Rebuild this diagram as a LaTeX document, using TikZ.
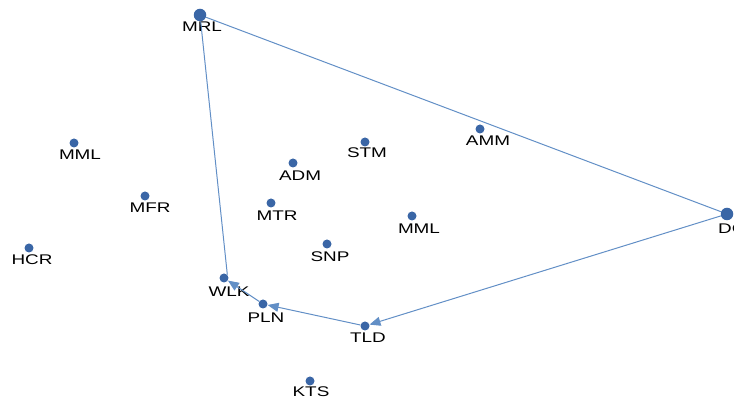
\documentclass[tikz,border=0pt]{standalone}
\usepackage{fontspec}
\newfontfamily\lblfont[FakeStretch=1.35]{Liberation Sans}
\usepackage{xcolor}
\definecolor{dotBlue}{HTML}{3A66A6}
\definecolor{lineBlue}{HTML}{628FC6}
\usepackage{tikz}
\usetikzlibrary{arrows.meta}

\tikzset{
  pt/.style={circle, fill=dotBlue, draw=none, inner sep=0pt, minimum size=9pt},
  bigpt/.style={pt, minimum size=12.5pt},
  lbl/.style={inner sep=0pt, font=\lblfont\fontsize{14}{16}\selectfont, text=black},
  route/.style={draw=lineBlue, line width=1pt},
}

\begin{document}
\begin{tikzpicture}[x=1pt, y=1pt, >={Triangle[length=11pt,width=9pt]}]
  \clip (0,0) rectangle (734,403);
  % the points
  \node[bigpt] (mrl)  at (200,388) {};   % top
  \node[bigpt] (dc)   at (727,189) {};   % right edge
  \node[pt]    (amm)  at (480,274) {};
  \node[pt]    (stm)  at (365,261) {};
  \node[pt]    (adm)  at (293,240) {};
  \node[pt]    (mtr)  at (271,200) {};
  \node[pt]    (mmlr) at (412,187) {};
  \node[pt]    (snp)  at (327,159) {};
  \node[pt]    (mmll) at (74,260)  {};
  \node[pt]    (mfr)  at (145,207) {};
  \node[pt]    (hcr)  at (29,155)  {};
  \node[pt]    (wlk)  at (224,125) {};
  \node[pt]    (pln)  at (263,99)  {};
  \node[pt]    (tld)  at (365,77)  {};
  \node[pt]    (kts)  at (310,22)  {};
  % names under the points
  \node[lbl] (mrl-l)  at (202,376) {MRL};
  \node[lbl, anchor=west] (dc-l) at (718,174) {DC};
  \node[lbl] (amm-l)  at (488,262) {AMM};
  \node[lbl] (stm-l)  at (367,250) {STM};
  \node[lbl] (adm-l)  at (300,227) {ADM};
  \node[lbl] (mtr-l)  at (277,187) {MTR};
  \node[lbl] (mmlr-l) at (419,174) {MML};
  \node[lbl] (snp-l)  at (330,146) {SNP};
  \node[lbl] (mmll-l) at (80,248)  {MML};
  \node[lbl] (mfr-l)  at (150,195) {MFR};
  \node[lbl] (hcr-l)  at (32,143)  {HCR};
  \node[lbl] (wlk-l)  at (229,111) {WLK};
  \node[lbl] (pln-l)  at (266,85)  {PLN};
  \node[lbl] (tld-l)  at (368,65)  {TLD};
  \node[lbl] (kts-l)  at (311,11)  {KTS};
  % the tour
  \draw[route] (mrl) -- (dc);
  \draw[route, ->, lineBlue] (dc) -- (tld);
  \draw[route, ->, lineBlue] (tld) -- (pln);
  \draw[route, ->, lineBlue] (pln) -- (wlk);
  \draw[route] (wlk.north east) -- (mrl);
\end{tikzpicture}
\end{document}
